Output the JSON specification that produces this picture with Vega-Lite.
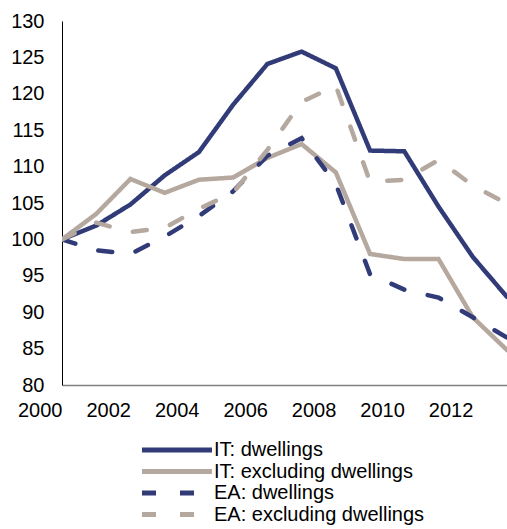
{
  "$schema": "https://vega.github.io/schema/vega-lite/v6.json",
  "width": 445,
  "height": 364,
  "autosize": {"type": "none"},
  "padding": {"left": 62, "top": 21, "right": 0, "bottom": 144},
  "config": {
    "font": "Liberation Sans",
    "view": {"stroke": null},
    "axis": {"labelFont": "Liberation Sans", "labelColor": "#000000", "labelFontSize": 20, "grid": false, "ticks": false, "title": null}
  },
  "data": {
    "values": [
      {"year": 2000, "series": "IT: dwellings", "value": 100},
      {"year": 2001, "series": "IT: dwellings", "value": 101.9},
      {"year": 2002, "series": "IT: dwellings", "value": 104.8},
      {"year": 2003, "series": "IT: dwellings", "value": 108.8},
      {"year": 2004, "series": "IT: dwellings", "value": 112.0},
      {"year": 2005, "series": "IT: dwellings", "value": 118.5},
      {"year": 2006, "series": "IT: dwellings", "value": 124.1},
      {"year": 2007, "series": "IT: dwellings", "value": 125.8},
      {"year": 2008, "series": "IT: dwellings", "value": 123.5},
      {"year": 2009, "series": "IT: dwellings", "value": 112.2},
      {"year": 2010, "series": "IT: dwellings", "value": 112.1},
      {"year": 2011, "series": "IT: dwellings", "value": 104.5},
      {"year": 2012, "series": "IT: dwellings", "value": 97.6},
      {"year": 2013, "series": "IT: dwellings", "value": 92.1},
      {"year": 2000, "series": "IT: excluding dwellings", "value": 100},
      {"year": 2001, "series": "IT: excluding dwellings", "value": 103.5},
      {"year": 2002, "series": "IT: excluding dwellings", "value": 108.3},
      {"year": 2003, "series": "IT: excluding dwellings", "value": 106.4},
      {"year": 2004, "series": "IT: excluding dwellings", "value": 108.2},
      {"year": 2005, "series": "IT: excluding dwellings", "value": 108.5},
      {"year": 2006, "series": "IT: excluding dwellings", "value": 111.2},
      {"year": 2007, "series": "IT: excluding dwellings", "value": 113.1},
      {"year": 2008, "series": "IT: excluding dwellings", "value": 109.2},
      {"year": 2009, "series": "IT: excluding dwellings", "value": 98.0},
      {"year": 2010, "series": "IT: excluding dwellings", "value": 97.3},
      {"year": 2011, "series": "IT: excluding dwellings", "value": 97.3},
      {"year": 2012, "series": "IT: excluding dwellings", "value": 89.3},
      {"year": 2013, "series": "IT: excluding dwellings", "value": 84.8},
      {"year": 2000, "series": "EA: dwellings", "value": 100},
      {"year": 2001, "series": "EA: dwellings", "value": 98.5},
      {"year": 2002, "series": "EA: dwellings", "value": 98.0},
      {"year": 2003, "series": "EA: dwellings", "value": 100.4},
      {"year": 2004, "series": "EA: dwellings", "value": 103.2},
      {"year": 2005, "series": "EA: dwellings", "value": 106.6},
      {"year": 2006, "series": "EA: dwellings", "value": 111.5},
      {"year": 2007, "series": "EA: dwellings", "value": 113.9},
      {"year": 2008, "series": "EA: dwellings", "value": 107.6},
      {"year": 2009, "series": "EA: dwellings", "value": 95.2},
      {"year": 2010, "series": "EA: dwellings", "value": 93.1},
      {"year": 2011, "series": "EA: dwellings", "value": 92.0},
      {"year": 2012, "series": "EA: dwellings", "value": 89.3},
      {"year": 2013, "series": "EA: dwellings", "value": 86.5},
      {"year": 2000, "series": "EA: excluding dwellings", "value": 100},
      {"year": 2001, "series": "EA: excluding dwellings", "value": 102.3},
      {"year": 2002, "series": "EA: excluding dwellings", "value": 101.0},
      {"year": 2003, "series": "EA: excluding dwellings", "value": 101.6},
      {"year": 2004, "series": "EA: excluding dwellings", "value": 104.2},
      {"year": 2005, "series": "EA: excluding dwellings", "value": 106.4},
      {"year": 2006, "series": "EA: excluding dwellings", "value": 112.3},
      {"year": 2007, "series": "EA: excluding dwellings", "value": 118.9},
      {"year": 2008, "series": "EA: excluding dwellings", "value": 121.1},
      {"year": 2009, "series": "EA: excluding dwellings", "value": 107.9},
      {"year": 2010, "series": "EA: excluding dwellings", "value": 108.2},
      {"year": 2011, "series": "EA: excluding dwellings", "value": 110.9},
      {"year": 2012, "series": "EA: excluding dwellings", "value": 107.4},
      {"year": 2013, "series": "EA: excluding dwellings", "value": 104.9}
    ]
  },
  "mark": {"type": "line", "strokeWidth": 4.5, "strokeCap": "round", "strokeJoin": "miter", "clip": true},
  "encoding": {
    "x": {
      "field": "year", "type": "quantitative",
      "scale": {"domain": [2000, 2013], "nice": false, "zero": false},
      "axis": {"values": [2000, 2002, 2004, 2006, 2008, 2010, 2012], "format": "d", "labelAlign": "right", "labelFlush": false, "labelPadding": 15, "domainColor": "#808080", "domainWidth": 1.5}
    },
    "y": {
      "field": "value", "type": "quantitative",
      "scale": {"domain": [80, 130], "nice": false, "zero": false},
      "axis": {"values": [80, 85, 90, 95, 100, 105, 110, 115, 120, 125, 130], "labelPadding": 18, "domainColor": "#000000", "domainWidth": 1}
    },
    "color": {
      "field": "series", "type": "nominal",
      "scale": {
        "domain": ["IT: dwellings", "IT: excluding dwellings", "EA: dwellings", "EA: excluding dwellings"],
        "range": ["#303B78", "#B5A89F", "#303B78", "#B5A89F"]
      },
      "legend": {
        "orient": "none", "legendX": 105, "legendY": 419, "title": null,
        "direction": "vertical",
        "symbolType": "M-7,0H7", "symbolSize": 100, "symbolStrokeWidth": 5,
        "labelFontSize": 20, "labelFont": "Liberation Sans", "labelColor": "#000000",
        "labelOffset": 27, "rowPadding": 1.5, "labelLimit": 400
      }
    },
    "strokeDash": {
      "field": "series", "type": "nominal",
      "scale": {
        "domain": ["IT: dwellings", "IT: excluding dwellings", "EA: dwellings", "EA: excluding dwellings"],
        "range": [[1, 0], [1, 0], [14, 24], [14, 24]]
      },
      "legend": null
    }
  }
}
